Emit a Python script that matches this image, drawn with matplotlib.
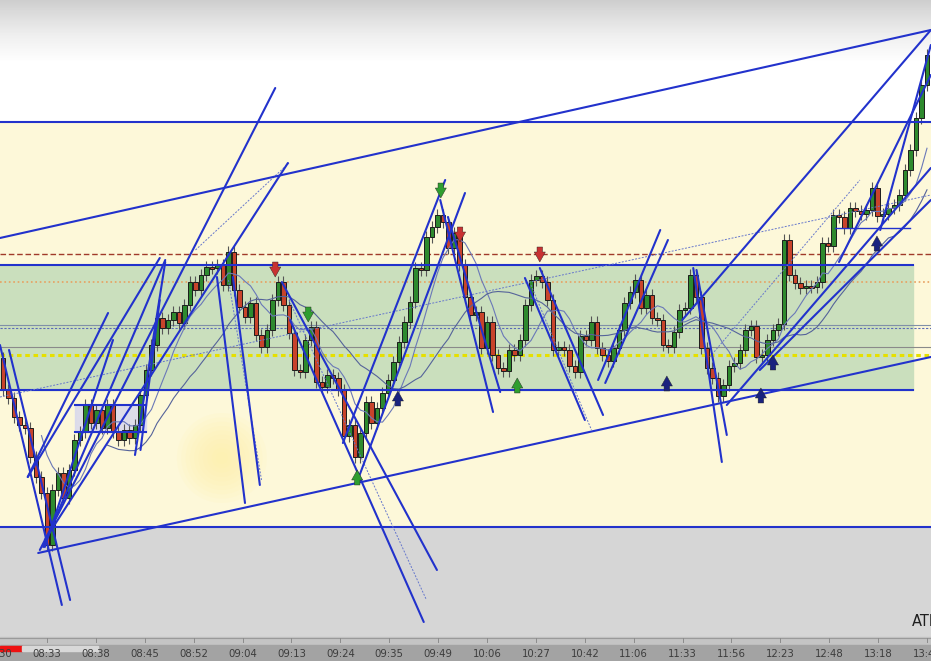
import numpy as np
import matplotlib.pyplot as plt
from matplotlib.patches import Rectangle, Ellipse

# bar closes, screen level (axis is inverted: small = high price)
first_open = 358
closes = [390, 398, 417, 425, 428, 457, 477, 493, 545, 490,
          473, 498, 470, 440, 432, 405, 423, 410, 428, 405,
          432, 440, 430, 438, 425, 395, 370, 345, 318, 328,
          320, 312, 323, 305, 282, 290, 275, 267, 268, 265,
          285, 252, 290, 307, 317, 303, 335, 347, 330, 300,
          282, 305, 333, 370, 372, 340, 327, 382, 387, 375,
          378, 390, 436, 425, 457, 433, 402, 423, 408, 393,
          380, 362, 342, 322, 302, 268, 270, 237, 227, 215,
          222, 248, 233, 265, 297, 315, 312, 348, 322, 355,
          368, 371, 350, 355, 340, 305, 280, 276, 282, 300,
          350, 347, 350, 366, 372, 336, 340, 322, 348, 355,
          361, 348, 330, 303, 292, 280, 308, 295, 318, 320,
          345, 347, 332, 310, 308, 275, 297, 348, 368, 378,
          396, 385, 366, 363, 350, 330, 326, 357, 355, 340,
          330, 324, 240, 275, 283, 288, 286, 287, 282, 243,
          246, 215, 217, 228, 208, 211, 214, 210, 188, 216,
          214, 208, 205, 195, 170, 150, 118, 85, 55]

time_labels = ['08:30', '08:33', '08:38', '08:45', '08:52', '09:04', '09:13',
               '09:24', '09:35', '09:49', '10:06', '10:27', '10:42', '11:06',
               '11:33', '11:56', '12:23', '12:48', '13:18', '13:48']
time_pos = [-0.9] + list(np.linspace(8, 168, 19))

# horizontal levels
upper_level = 122
lower_level = 527
zone_top, zone_bot = 265, 390
red_dash = 254
orange_dot = 282
slate_line, slate_dash = 325, 328
gray_line = 347
yellow_dot = 355

# drawn trendlines (bar index, level) -> (bar index, level)
trendlines = [
    (-0.55, 238, 168.7, 30), (6.4, 553, 168.7, 357),
    (-0.55, 345, 10.7, 605), (1.1, 350, 12.2, 600),
    (4.5, 477, 19.1, 313), (4.5, 477, 28.5, 258),
    (7.3, 547, 29.5, 260), (6.7, 550, 49.5, 88),
    (7.6, 547, 20.0, 340), (7.6, 540, 51.8, 163),
    (24.0, 455, 29.5, 262), (25.0, 450, 28.5, 300),
    (38.9, 277, 44.0, 503), (41.8, 277, 46.7, 485),
    (50.7, 282, 78.9, 570), (52.2, 320, 76.5, 622),
    (61.8, 443, 80.4, 180), (64.5, 480, 84.0, 193),
    (79.5, 200, 89.1, 412), (80.9, 217, 90.4, 392),
    (94.9, 278, 105.8, 420), (97.6, 268, 109.1, 415),
    (108.2, 380, 119.5, 230), (109.5, 383, 120.9, 240),
    (125.5, 268, 130.7, 462), (126.1, 270, 131.6, 435),
    (123.5, 320, 168.7, 30), (131.6, 405, 168.7, 168),
    (137.6, 370, 168.7, 200), (152.0, 262, 168.7, 75),
    (159.5, 230, 168.7, 45),
]
thin_lines = [
    (-0.55, 397, 168.7, 195), (35.0, 250, 52.0, 163),
    (128.5, 357, 155.8, 180), (41.0, 280, 47.0, 480),
    (52.0, 300, 77.0, 600), (96.0, 285, 107.0, 430),
]

# signal arrows: (bar index, level of tip, direction, colour)
arrows = [
    (49.5, 277, 'down', '#c83232'), (83.1, 242, 'down', '#c83232'),
    (97.6, 262, 'down', '#c83232'), (79.6, 198, 'down', '#2f9e2f'),
    (55.5, 322, 'down', '#2f9e2f'), (64.4, 470, 'up', '#2f9e2f'),
    (93.5, 378, 'up', '#2f9e2f'), (71.8, 391, 'up', '#1a237e'),
    (120.7, 376, 'up', '#1a237e'), (140.0, 355, 'up', '#1a237e'),
    (137.8, 388, 'up', '#1a237e'), (158.9, 236, 'up', '#1a237e'),
]

BLUE = '#2232cc'
x0, x1 = -0.545, 168.73

fig = plt.figure(figsize=(9.31, 6.61), dpi=100)
ax = fig.add_axes([0, 0, 1, 1])
ax.set_xlim(x0, x1)
ax.set_ylim(661, 0)
ax.axis('off')

# background
grad = np.linspace(0.30, 0.0, 100).reshape(-1, 1)
ax.imshow(grad, extent=(x0, x1, 62, 0), cmap='Greys', vmin=0, vmax=1,
          aspect='auto', zorder=0)
ax.axhspan(61, upper_level, color='white', zorder=0)
ax.axhspan(upper_level, lower_level, color='#fdf8d9', zorder=0)
ax.axhspan(lower_level, 637, color='#d6d6d6', zorder=0)
ax.axhspan(637, 645, color='#c4c4c4', zorder=0)
ax.axhspan(645, 661, color='#a3a3a3', zorder=0)
for r in np.linspace(45, 6, 10):
    ax.add_patch(Ellipse((39.8, 458), 2 * r / 5.5, 2 * r, color='#fff1a0',
                         alpha=0.09, lw=0, zorder=0))
ax.add_patch(Rectangle((x0, zone_top), 166.05, zone_bot - zone_top,
                       color='#cadfbd', zorder=1))
ax.add_patch(Rectangle((13.1, 405), 12.9, 27, color='#d6d6ee', alpha=0.8, zorder=1))

# horizontal levels
ax.axhline(red_dash, color='#a03a2a', ls=(0, (4, 2)), lw=1.0, zorder=2)
ax.axhline(orange_dot, color='#e8a060', ls=':', lw=1.2, zorder=2)
ax.axhline(slate_line, color='#8090a8', lw=0.8, zorder=2)
ax.axhline(slate_dash, color='#5a6ab8', ls=(0, (2, 1.5)), lw=0.8, zorder=2)
ax.axhline(gray_line, color='#8a8a8a', lw=0.8, zorder=2)
ax.axhline(yellow_dot, color='#e6e000', ls=(0, (1.5, 1.2)), lw=2.2, zorder=2)
ax.axhline(upper_level, color=BLUE, lw=1.5, zorder=4)
ax.axhline(lower_level, color=BLUE, lw=1.5, zorder=4)
ax.plot([x0, 165.5], [zone_top, zone_top], color=BLUE, lw=1.5, zorder=4)
ax.plot([x0, 165.5], [zone_bot, zone_bot], color=BLUE, lw=1.5, zorder=4)
ax.plot([13.1, 26], [405, 405], color=BLUE, lw=1.5, zorder=4)
ax.plot([13.1, 26], [432, 432], color=BLUE, lw=1.5, zorder=4)
ax.plot([151.3, 164.9], [228, 228], color=BLUE, lw=1.0, zorder=4)

# candles
opens = [first_open] + closes[:-1]
idx = np.arange(len(closes))
cl = np.array(closes, float)
op = np.array(opens, float)
top = np.minimum(op, cl)
bot = np.maximum(op, cl)
ax.vlines(idx, top - 6, bot + 6, color='#555555', lw=0.8, zorder=3)
for i in idx:
    col = '#2e8a2e' if cl[i] < op[i] else '#c8432b'
    h = max(bot[i] - top[i], 1.5)
    ax.add_patch(Rectangle((i - 0.4, top[i]), 0.8, h, facecolor=col,
                           edgecolor='#1c1c1c', lw=0.7, zorder=3))

# moving averages
for w, c in [(8, '#6a78b8'), (20, '#55639a')]:
    ma = np.convolve(cl, np.ones(w) / w, mode='valid')
    ax.plot(idx[w - 1:], ma, color=c, lw=0.8, zorder=3)

# trendlines
for a, b, c, d in thin_lines:
    ax.plot([a, c], [b, d], color='#6677cc', lw=0.7, ls=(0, (2, 1.5)), zorder=4)
for a, b, c, d in trendlines:
    ax.plot([a, c], [b, d], color=BLUE, lw=1.5, zorder=5, solid_capstyle='round')

# arrows
for xi, tip, d, c in arrows:
    tail = tip - 15 if d == 'down' else tip + 15
    ax.annotate('', xy=(xi, tip), xytext=(xi, tail), zorder=6,
                arrowprops=dict(arrowstyle='simple,head_length=0.9,head_width=1.0,tail_width=0.5',
                                mutation_scale=8, fc=c, ec='#222222', lw=0.3,
                                shrinkA=0, shrinkB=0))

# time axis strip
ax.plot([x0, x1], [637.5, 637.5], color='#9a9a9a', lw=0.8, zorder=2)
for p in time_pos:
    ax.plot([p, p], [638, 642], color='#8c8c8c', lw=0.7, zorder=2)
ax.add_patch(Rectangle((x0, 645.5), 4.0, 5, color='#ee1111', zorder=6))
ax.add_patch(Rectangle((3.45, 645.5), 13.8, 5, color='#d8d8d8', zorder=6))
for p, lab in zip(time_pos, time_labels):
    ax.text(p, 654, lab, ha='center', va='center', fontsize=7.3,
            color='#3c3c3c', zorder=7, clip_on=True)
ax.text(165.3, 622, 'ATI', ha='left', va='center', fontsize=10.5,
        color='#1e1e1e', zorder=7, clip_on=True)

plt.savefig('out.png', dpi=100)
